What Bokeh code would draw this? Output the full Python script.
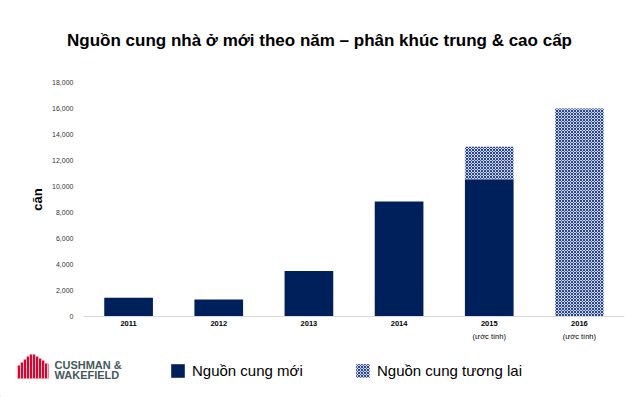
from bokeh.plotting import figure
from bokeh.layouts import column
from bokeh.models import (FactorRange, Range1d, SingleIntervalTicker, NumeralTickFormatter,
                          CategoricalAxis, Legend, LegendItem, ColumnDataSource,
                          CustomJSTickFormatter)
from bokeh.core.properties import value
from bokeh.embed import file_html
from bokeh.resources import INLINE

# ---------------- data ----------------
years = ["2011", "2012", "2013", "2014", "2015", "2016"]
new_supply = [1450, 1300, 3500, 8850, 10550, 0]
future_supply = [0, 0, 0, 0, 2500, 16000]
year_notes = {"2011": "", "2012": "", "2013": "", "2014": "", "2015": "(ước tính)", "2016": "(ước tính)"}
title_text = "Nguồn cung nhà ở mới theo năm – phân khúc trung & cao cấp"
y_label = "căn"
legend_labels = ["Nguồn cung mới", "Nguồn cung tương lai"]
logo_lines = ["CUSHMAN &", "WAKEFIELD"]

FONT = "Liberation Sans"
NAVY = "#00205b"
HATCH_BG = "#d0d7ea"
HATCH_FG = "#27448f"
W = 640
TOP_H, MAIN_H, BOT_H = 70, 276, 51


def strip(h):
    f = figure(width=W, height=h, x_range=Range1d(0, W), y_range=Range1d(0, h),
               output_backend="svg", toolbar_location=None, frame_align=False,
               min_border_left=0, min_border_right=0, min_border_top=0, min_border_bottom=0)
    f.axis.visible = False
    f.xgrid.visible = False
    f.ygrid.visible = False
    f.outline_line_color = None
    return f


# ---------------- title strip ----------------
t = strip(TOP_H)
t.text(x=[319], y=[TOP_H - 40], text=[title_text], text_font=value(FONT),
       text_font_size="17px", text_font_style="bold", text_color="#000000",
       text_align="center", text_baseline="middle")

# ---------------- main chart ----------------
p = figure(width=W, height=MAIN_H, x_range=FactorRange(*years, range_padding=0),
           y_range=Range1d(0, 18000), output_backend="svg", toolbar_location=None,
           frame_align=False,
           min_border_left=83, min_border_right=16, min_border_top=82 - TOP_H,
           min_border_bottom=MAIN_H - (316 - TOP_H))

src = ColumnDataSource(dict(year=years, new=new_supply, future=future_supply))
r_new, r_future = p.vbar_stack(["new", "future"], x="year", width=0.54, source=src,
                               color=[NAVY, HATCH_BG], line_color=None)
r_future.glyph.hatch_pattern = "diagonal_cross"
r_future.glyph.hatch_color = HATCH_FG
r_future.glyph.hatch_scale = 3
r_future.glyph.hatch_weight = 1

p.xgrid.visible = False
p.ygrid.visible = False
p.outline_line_color = None

ya = p.yaxis[0]
ya.ticker = SingleIntervalTicker(interval=2000)
ya.formatter = NumeralTickFormatter(format="0,0")
ya.axis_line_color = None
ya.major_tick_line_color = None
ya.major_tick_out = 0
ya.major_tick_in = 0
ya.minor_tick_line_color = None
ya.major_label_text_font = FONT
ya.major_label_text_font_size = "7px"
ya.major_label_text_color = "#333333"
ya.major_label_standoff = 6
ya.axis_label = y_label
ya.axis_label_text_font = FONT
ya.axis_label_text_font_size = "13px"
ya.axis_label_text_font_style = "bold"
ya.axis_label_text_color = "#000000"
ya.axis_label_standoff = 4

xa = p.xaxis[0]
xa.axis_line_color = "#d9d9d9"
xa.major_tick_line_color = None
xa.major_tick_out = 0
xa.major_tick_in = 0
xa.minor_tick_line_color = None
xa.major_label_text_font = FONT
xa.major_label_text_font_size = "7.5px"
xa.major_label_text_font_style = "bold"
xa.major_label_text_color = "#000000"
xa.major_label_standoff = 4

xa2 = CategoricalAxis(formatter=CustomJSTickFormatter(args=dict(notes=year_notes),
                                                      code="return notes[tick] || ''"))
xa2.axis_line_color = None
xa2.major_tick_line_color = None
xa2.major_tick_out = 0
xa2.major_tick_in = 0
xa2.minor_tick_line_color = None
xa2.major_label_text_font = FONT
xa2.major_label_text_font_size = "7.5px"
xa2.major_label_text_color = "#000000"
xa2.major_label_standoff = 3
p.add_layout(xa2, "below")

# ---------------- bottom strip: logo + legend ----------------
b = strip(BOT_H)
Y0 = 397  # page bottom; strip y = Y0 - page_y
logo_px = [17, 17, 20, 20, 23, 23, 26, 26, 29, 29, 35, 35, 38, 38, 41, 41, 44, 44, 48, 48]
logo_py = [378, 365, 365, 362, 362, 359, 359, 356, 356, 354, 354, 356, 356, 358, 358, 360, 360, 363, 363, 378]
b.patch(x=logo_px, y=[Y0 - v for v in logo_py], fill_color="#e4002b", line_color=None,
        hatch_pattern="vertical_line", hatch_color="white", hatch_scale=3, hatch_weight=0.8)
b.text(x=[54, 54], y=[Y0 - 364, Y0 - 374.5], text=logo_lines, text_font=value(FONT),
       text_font_size="11px", text_font_style="bold", text_color="#45595c",
       text_baseline="middle", text_align="left")

# proxy renderers (off-range) carrying the legend styles
ln = b.vbar(x=[-100], top=[1], width=1, color=NAVY, line_color=None)
lf = b.vbar(x=[-100], top=[1], width=1, color=HATCH_BG, line_color=None,
            hatch_pattern="diagonal_cross", hatch_color=HATCH_FG, hatch_scale=3, hatch_weight=1)
for rend, lab, gx in [(ln, legend_labels[0], 169), (lf, legend_labels[1], 354)]:
    lg = Legend(items=[LegendItem(label=lab, renderers=[rend])], location=(gx, Y0 - 379),
                glyph_width=17, glyph_height=17, label_height=17, label_standoff=6,
                padding=0, margin=0, border_line_alpha=0, background_fill_alpha=0,
                label_text_font=FONT, label_text_font_size="15px", label_text_color="#000000")
    b.add_layout(lg)

layout = column(t, p, b, spacing=0)
open("out.html", "w").write(file_html(layout, INLINE))
